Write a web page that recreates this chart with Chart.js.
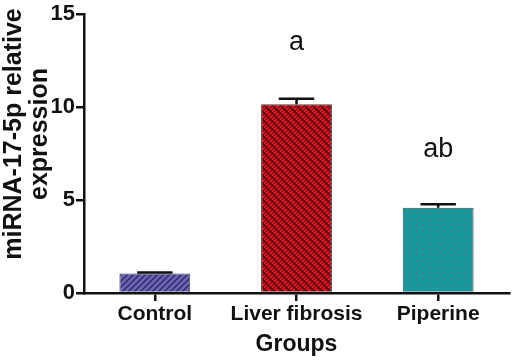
<!DOCTYPE html>
<html>
<head>
<meta charset="utf-8">
<script src="https://cdn.jsdelivr.net/npm/chart.js@4"></script>
<style>
  html, body { margin: 0; padding: 0; background: #fff; }
  #wrap { width: 512px; height: 362px; }
</style>
</head>
<body>
<div id="wrap"><canvas id="chart" width="512" height="362"></canvas></div>
<script>
// values
const groups = ["Control", "Liver fibrosis", "Piperine"];
const means = [1.05, 10.15, 4.58];
const errors = [0.05, 0.3, 0.2];
const letters = ["", "a", "ab"];
const letterHeights = [0, 13.5, 7.7];
const yTicks = [0, 5, 10, 15];
const yTitle = ["miRNA-17-5p relative", "expression"];

const FONT = "'Liberation Sans', Arial, sans-serif";

// fill patterns for the three bars
function makePattern(kind) {
  const c = document.createElement("canvas");
  const x = c.getContext("2d");
  if (kind === "hatch") {
    c.width = 6; c.height = 6;
    x.fillStyle = "#6b63b6";
    x.fillRect(0, 0, 6, 6);
    x.strokeStyle = "#2b265c";
    x.lineWidth = 1.3;
    x.beginPath();
    x.moveTo(-1, 7); x.lineTo(7, -1);
    x.moveTo(-1, 1); x.lineTo(1, -1);
    x.moveTo(5, 7); x.lineTo(7, 5);
    x.stroke();
  } else if (kind === "brick") {
    // red diagonal dashes on dark ground, staggered like bricks
    c.width = 8; c.height = 8;
    x.fillStyle = "#3a0a0e";
    x.fillRect(0, 0, 8, 8);
    x.strokeStyle = "#ec1420";
    x.lineWidth = 2.2;
    x.lineCap = "butt";
    x.beginPath();
    for (let k = -1; k <= 5; k++) {
      const cc = k * 4;
      const off = (k % 2 === 0) ? 0 : 2;
      for (let s = -8 + off; s < 16; s += 4) {
        x.moveTo(s, cc - s);
        x.lineTo(s + 3, cc - s - 3);
      }
    }
    x.stroke();
  } else {
    c.width = 7; c.height = 6;
    x.fillStyle = "#18979c";
    x.fillRect(0, 0, 7, 6);
    x.fillStyle = "#a84a62";
    x.fillRect(3, 3, 1, 1);
  }
  return x.createPattern(c, "repeat");
}

// upper error bars, significance letters and the y title
const extras = {
  id: "extras",
  afterDatasetsDraw(chart) {
    const ctx = chart.ctx;
    const meta = chart.getDatasetMeta(0);
    const ys = chart.scales.y;
    ctx.save();
    ctx.strokeStyle = "#111";
    ctx.lineWidth = 2.5;
    meta.data.forEach((bar, i) => {
      const top = ys.getPixelForValue(means[i] + errors[i]);
      const half = bar.width / 4;
      ctx.beginPath();
      ctx.moveTo(bar.x, bar.y);
      ctx.lineTo(bar.x, top);
      ctx.moveTo(bar.x - half, top);
      ctx.lineTo(bar.x + half, top);
      ctx.stroke();
      if (letters[i]) {
        ctx.fillStyle = "#111";
        ctx.font = "27px " + FONT;
        ctx.textAlign = "center";
        ctx.textBaseline = "middle";
        ctx.fillText(letters[i], bar.x, ys.getPixelForValue(letterHeights[i]));
      }
    });
    // y title sits a bit above the middle of the axis in the original
    ctx.fillStyle = "#111";
    ctx.font = "bold 25px " + FONT;
    ctx.textAlign = "center";
    ctx.textBaseline = "middle";
    ctx.translate(0, 134);
    ctx.rotate(-Math.PI / 2);
    ctx.fillText(yTitle[0], 0, 14);
    ctx.fillText(yTitle[1], 0, 40);
    ctx.restore();
  }
};

new Chart(document.getElementById("chart"), {
  type: "bar",
  data: {
    labels: groups,
    datasets: [{
      data: means,
      backgroundColor: [makePattern("hatch"), makePattern("brick"), makePattern("dots")],
      borderColor: "#444",
      borderWidth: 1,
      barPercentage: 0.5,
      categoryPercentage: 1
    }]
  },
  options: {
    responsive: false,
    animation: false,
    layout: { padding: { top: 12, right: 3 } },
    plugins: { legend: { display: false }, tooltip: { enabled: false } },
    scales: {
      x: {
        border: { color: "#111", width: 2.5 },
        grid: { drawOnChartArea: false, color: "#111", lineWidth: 2.5, tickLength: 8, offset: false },
        ticks: { color: "#111", font: { family: FONT, size: 21, weight: "bold" }, padding: 1 },
        title: { display: true, text: "Groups", color: "#111", font: { family: FONT, size: 23, weight: "bold" }, padding: { top: 3 } },
        afterFit(s) { s.height = 69; }
      },
      y: {
        min: 0,
        max: 15,
        afterBuildTicks(s) { s.ticks = yTicks.map(v => ({ value: v })); },
        border: { color: "#111", width: 2.5 },
        grid: { drawOnChartArea: false, color: "#111", lineWidth: 2.5, tickLength: 8 },
        ticks: { color: "#111", font: { family: FONT, size: 22, weight: "bold" }, padding: 1 },
        afterFit(s) { s.width = 84; }
      }
    }
  },
  plugins: [extras]
});
</script>
</body>
</html>
